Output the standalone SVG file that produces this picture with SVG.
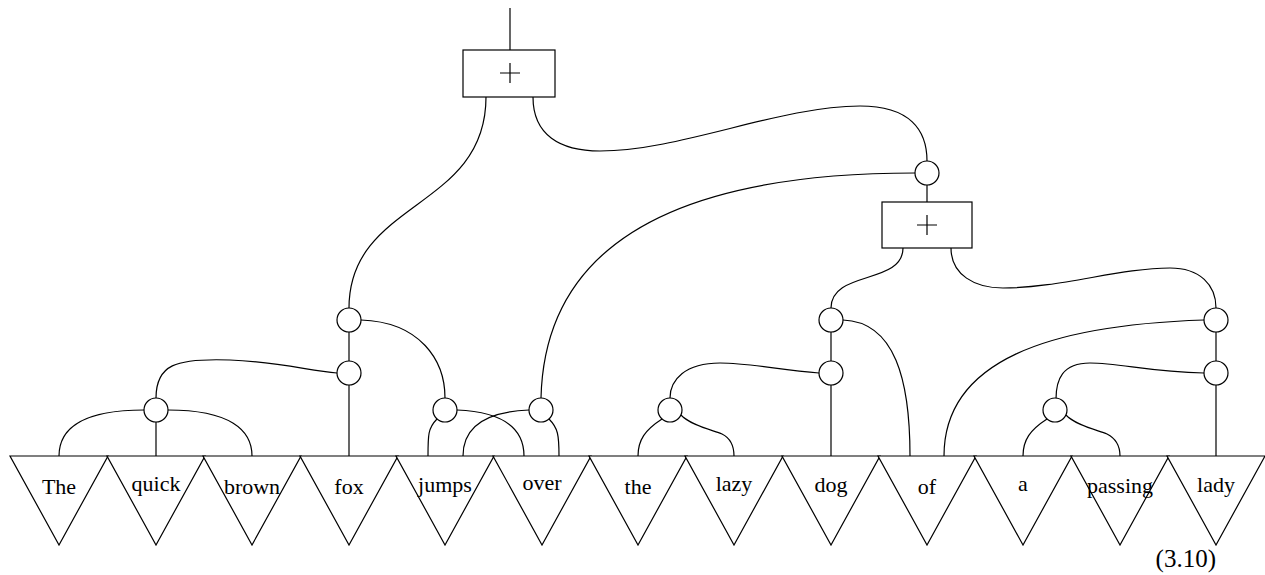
<svg xmlns="http://www.w3.org/2000/svg" width="1265" height="575" viewBox="0 0 1265 575">
<style>
.s{fill:none;stroke:#000;stroke-width:1.2}
.n{fill:#fff;stroke:#000;stroke-width:1.2}
.t{font-family:"Liberation Serif","Times New Roman",serif;font-size:22px;fill:#000;text-anchor:middle}
</style>
<defs>
<polygon id="tri" points="-49,0 49,0 0,89" class="n"/>
</defs>
<g id="connectors" class="s">
<line x1="510" y1="8" x2="510" y2="50"/>
<path d="M486,97 C486,210 349,200 349,308"/>
<path d="M533,97 C533,135 560,151 600,151 C680,151 780,106 860,106 C910,106 927,130 927,161"/>
<path d="M541,398 C545,230 700,173 915,173"/>
<line x1="927" y1="185" x2="927" y2="202"/>
<path d="M903,248 C903,285 831,270 831,308"/>
<path d="M951,248 C951,275 975,288 1003,288 C1060,288 1120,268 1170,268 C1200,268 1216,285 1216,308"/>
<path d="M361,320 C420,322 445,360 445,398"/>
<line x1="349" y1="332" x2="349" y2="361"/>
<line x1="349" y1="385" x2="349" y2="456"/>
<path d="M156,398 C156,365 175,358 230,360 C280,362 310,371 337,373"/>
<path d="M144,410 C80,410 59,430 59,456"/>
<path d="M168,410 C230,410 252,430 252,456"/>
<line x1="156" y1="422" x2="156" y2="456"/>
<path d="M437,419 C428,428 428,435 428,456"/>
<path d="M457,410 C505,412 524,430 524,456"/>
<path d="M529,410 C480,412 463,430 463,456"/>
<path d="M549,419 C558,428 559,435 559,456"/>
<path d="M662,419 C645,430 638,440 638,456"/>
<path d="M681,415 C690,425 712,430 722,434 C732,439 734,447 734,456"/>
<path d="M819,373 C780,370 750,363 720,363 C685,363 670,380 670,398"/>
<line x1="831" y1="332" x2="831" y2="361"/>
<line x1="831" y1="385" x2="831" y2="456"/>
<path d="M843,320 C895,322 910,380 910,456"/>
<line x1="1216" y1="332" x2="1216" y2="361"/>
<line x1="1216" y1="385" x2="1216" y2="456"/>
<path d="M1204,320 C1050,325 944,360 944,456"/>
<path d="M1204,373 C1150,372 1120,363 1090,363 C1062,363 1056,380 1056,399"/>
<path d="M1047,419 C1030,430 1023,440 1023,456"/>
<path d="M1066,415 C1075,425 1097,430 1107,434 C1117,439 1120,447 1120,456"/>
</g>
<g id="box1"><rect x="463" y="50" width="92" height="47" class="n"/><path d="M500,73 H520 M510,63 V83" class="s"/></g>
<g id="box2"><rect x="882" y="202" width="90" height="46" class="n"/><path d="M917,225 H937 M927,215 V235" class="s"/></g>
<g id="c-top"><circle cx="927" cy="173" r="12" class="n"/></g>
<g id="c-fox1"><circle cx="349" cy="320" r="12" class="n"/></g>
<g id="c-fox2"><circle cx="349" cy="373" r="12" class="n"/></g>
<g id="c-tqb"><circle cx="156" cy="410" r="12" class="n"/></g>
<g id="c-jumps"><circle cx="445" cy="410" r="12" class="n"/></g>
<g id="c-over"><circle cx="541" cy="410" r="12" class="n"/></g>
<g id="c-thelazy"><circle cx="670" cy="410" r="12" class="n"/></g>
<g id="c-dog1"><circle cx="831" cy="320" r="12" class="n"/></g>
<g id="c-dog2"><circle cx="831" cy="373" r="12" class="n"/></g>
<g id="c-lady1"><circle cx="1216" cy="320" r="12" class="n"/></g>
<g id="c-lady2"><circle cx="1216" cy="373" r="12" class="n"/></g>
<g id="c-apassing"><circle cx="1055" cy="410" r="12" class="n"/></g>
<g id="w-The"><use href="#tri" x="59" y="456"/><text class="t" x="59" y="494">The</text></g>
<g id="w-quick"><use href="#tri" x="156" y="456"/><text class="t" x="156" y="491">quick</text></g>
<g id="w-brown"><use href="#tri" x="252" y="456"/><text class="t" x="252" y="494">brown</text></g>
<g id="w-fox"><use href="#tri" x="349" y="456"/><text class="t" x="349" y="494">fox</text></g>
<g id="w-jumps"><use href="#tri" x="445" y="456"/><text class="t" x="445" y="492">jumps</text></g>
<g id="w-over"><use href="#tri" x="542" y="456"/><text class="t" x="542" y="490">over</text></g>
<g id="w-the"><use href="#tri" x="638" y="456"/><text class="t" x="638" y="494">the</text></g>
<g id="w-lazy"><use href="#tri" x="734" y="456"/><text class="t" x="734" y="491">lazy</text></g>
<g id="w-dog"><use href="#tri" x="831" y="456"/><text class="t" x="831" y="492">dog</text></g>
<g id="w-of"><use href="#tri" x="927" y="456"/><text class="t" x="927" y="494">of</text></g>
<g id="w-a"><use href="#tri" x="1023" y="456"/><text class="t" x="1023" y="491">a</text></g>
<g id="w-passing"><use href="#tri" x="1120" y="456"/><text class="t" x="1120" y="493">passing</text></g>
<g id="w-lady"><use href="#tri" x="1216" y="456"/><text class="t" x="1216" y="492">lady</text></g>
<text x="1216" y="567" style="font-family:'Liberation Serif','Times New Roman',serif;font-size:25px;text-anchor:end">(3.10)</text>
</svg>
